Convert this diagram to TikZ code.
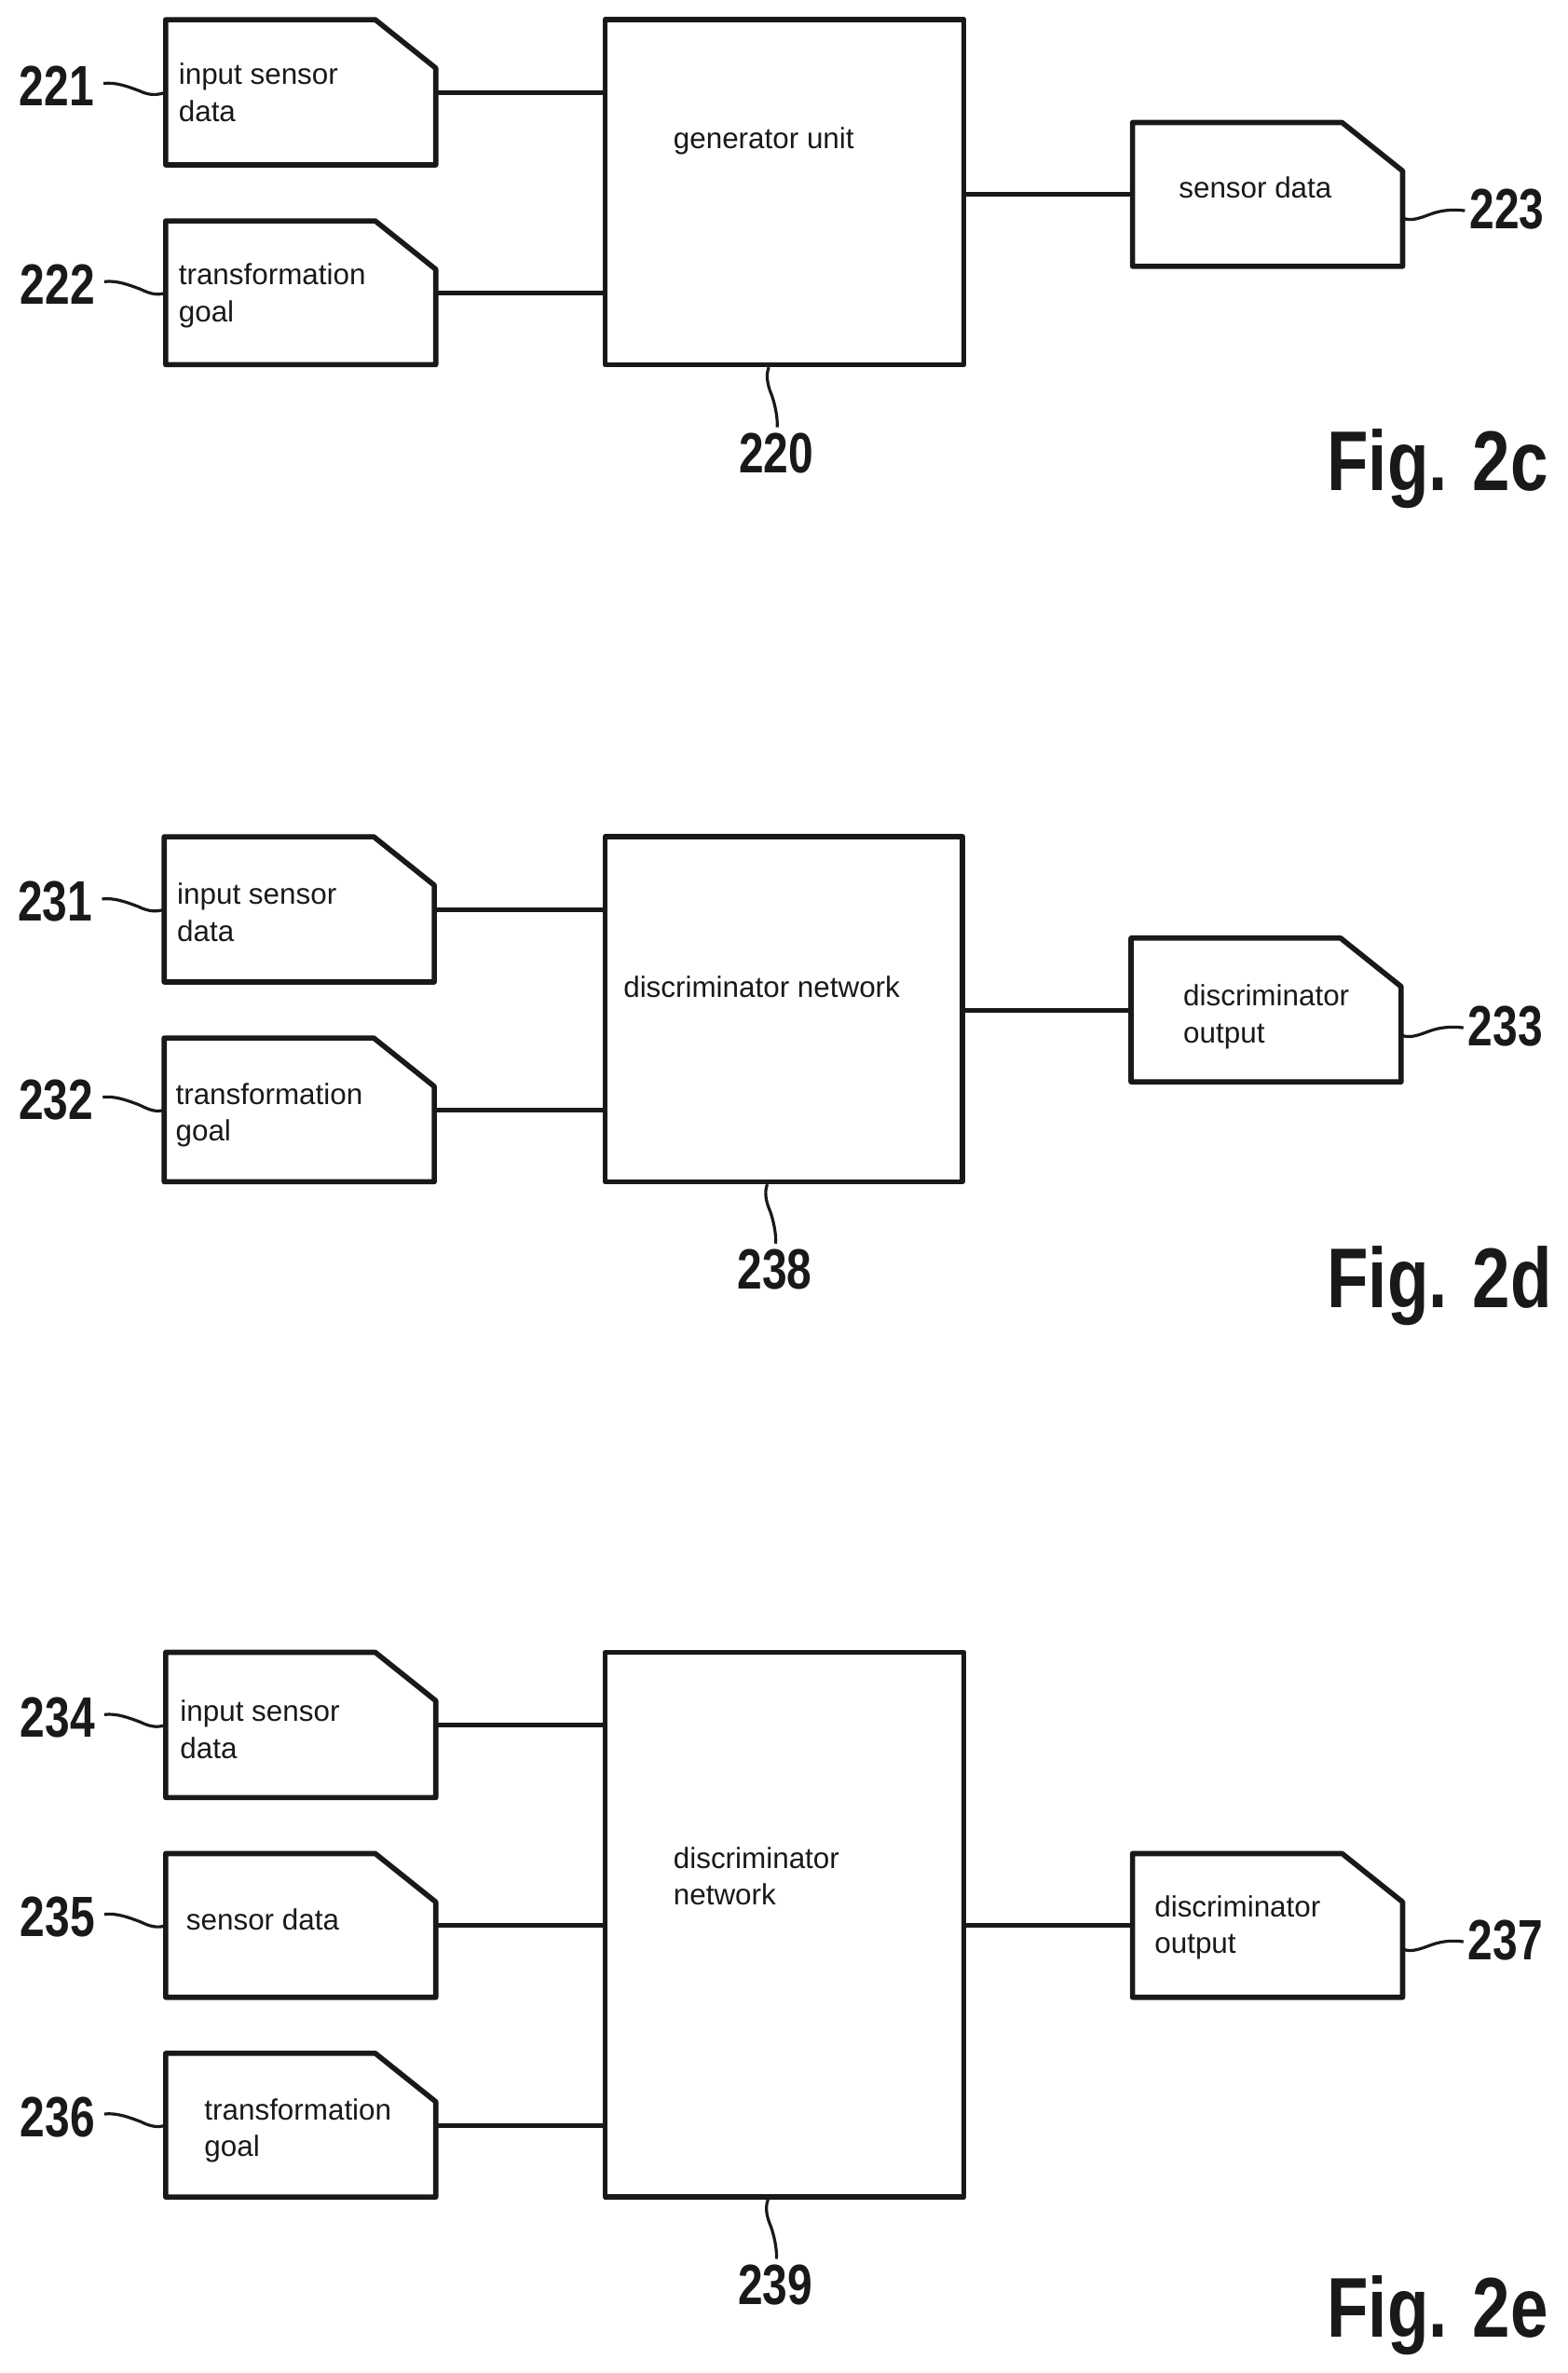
\documentclass[tikz,border=0pt]{standalone}
\usepackage{fontspec}
\usepackage{graphicx}
\setmainfont{Liberation Sans}
\usetikzlibrary{fit}
\definecolor{ink}{gray}{0.1}
\tikzset{
  frame/.style={draw=ink,line width=5.6pt,line join=round},
  wire/.style={draw=ink,line width=5pt},
  leaderline/.style={draw=ink,line width=3.2pt},
  lbl/.style={anchor=west,align=left,inner sep=0pt,text=ink,font=\fontsize{31.4}{39.5}\selectfont},
  refnum/.style={inner sep=0pt,text=ink,font=\bfseries\fontsize{61}{61}\selectfont},
  figlbl/.style={anchor=base west,inner sep=0pt,text=ink,font=\bfseries\fontsize{91}{91}\selectfont},
  hull/.style={inner sep=0pt,draw=none}
}
\newcommand{\docbox}[5]{%
  \node[hull,fit={(#2,#3) (#4,#5)}] (#1) {};
  \draw[frame] (#2,#3) -- ({#4-40},#3) -- (#4,{#3+32}) -- (#4,#5) -- (#2,#5) -- cycle;
}
\newcommand{\mainbox}[5]{%
  \node[hull,frame,fit={(#2,#3) (#4,#5)}] (#1) {};
}
\newcommand{\num}[4]{\node[refnum] (#1) at (#2,#3) {\scalebox{.786}[1]{#4}};}
% squiggle from a number on the left to its box
\newcommand{\leftlead}[2]{%
  \draw[leaderline] ([xshift=10pt,yshift=3pt]#1.east) .. controls +(8,-1) and +(-8,-3) .. ++(24,5) .. controls +(6,3) and +(-5,2) .. (#2.west);
}
% squiggle from a box on the right to its number
\newcommand{\rightlead}[2]{%
  \draw[leaderline] (#1) .. controls +(6,3) and +(-6,2) .. ++(20,-3) .. controls +(6,-2) and +(-8,-1) .. ([xshift=-5pt,yshift=-2pt]#2.west);
}
% squiggle from a number below up to the main box
\newcommand{\bottomlead}[2]{%
  \draw[leaderline] ([xshift=1pt,yshift=6pt]#1.north) .. controls +(1pt,10pt) and +(3pt,-8pt) .. ++(-6pt,35pt) .. controls +(-3pt,7pt) and +(-4pt,-10pt) .. ([xshift=-8pt]#1.north |- #2.south);
}
\begin{document}
\begin{tikzpicture}[x=1.624pt,y=-1.624pt]
\useasboundingbox (0,0) rectangle (1035.7,1568.3);

% Fig 2c
\mainbox{g220}{400}{13}{637}{241}
\docbox{b221}{109.5}{13}{288}{109}
\docbox{b222}{109.5}{146}{288}{241}
\docbox{b223}{748.5}{81}{927}{176}
\draw[wire] (b221.east) -- (b221.east -| g220.west);
\draw[wire] (b222.east) -- (b222.east -| g220.west);
\draw[wire] (b223.west -| g220.east) -- (b223.west);
\node[lbl] (t221) at (118,61) {input sensor\\data};
\node[lbl] (t222) at (118,195.5) {transformation\\goal};
\node[lbl] (t220) at (445,93) {generator unit};
\node[lbl] (t223) at (779,124) {sensor data};
\num{n221}{37.5}{57}{221}
\num{n222}{38}{188}{222}
\num{n223}{996}{138}{223}
\num{n220}{513}{299.5}{220}
\leftlead{n221}{b221}
\leftlead{n222}{b222}
\coordinate (e223) at (927,144);
\rightlead{e223}{n223}
\bottomlead{n220}{g220}
\node[figlbl] (f2c) at (877,324.3) {\scalebox{.80}[1]{Fig. 2c}};

% Fig 2d
\mainbox{g238}{400}{553}{636}{781}
\docbox{b231}{108.5}{553}{287}{649}
\docbox{b232}{108.5}{686}{287}{781}
\docbox{b233}{747.5}{620}{926}{715}
\draw[wire] (b231.east) -- (b231.east -| g238.west);
\draw[wire] (b232.east) -- (b232.east -| g238.west);
\draw[wire] (b233.west -| g238.east) -- (b233.west);
\node[lbl] (t231) at (117,603) {input sensor\\data};
\node[lbl] (t232) at (116,737) {transformation\\goal};
\node[lbl] (t238) at (412,652.5) {discriminator network};
\node[lbl] (t233) at (782,672) {discriminator\\output};
\num{n231}{36.5}{596}{231}
\num{n232}{37}{727}{232}
\num{n233}{995}{678}{233}
\num{n238}{512}{839}{238}
\leftlead{n231}{b231}
\leftlead{n232}{b232}
\coordinate (e233) at (926,684);
\rightlead{e233}{n233}
\bottomlead{n238}{g238}
\node[figlbl] (f2d) at (877,864.3) {\scalebox{.80}[1]{Fig. 2d}};

% Fig 2e
\mainbox{g239}{400}{1092}{637}{1452}
\docbox{b234}{109.5}{1092}{288}{1188}
\docbox{b235}{109.5}{1225}{288}{1320}
\docbox{b236}{109.5}{1357}{288}{1452}
\docbox{b237}{748.5}{1225}{927}{1320}
\draw[wire] (b234.east) -- (b234.east -| g239.west);
\draw[wire] (b235.east) -- (b235.east -| g239.west);
\draw[wire] (b236.east) -- (b236.east -| g239.west);
\draw[wire] (b237.west -| g239.east) -- (b237.west);
\node[lbl] (t234) at (119,1143) {input sensor\\data};
\node[lbl] (t235) at (123,1268.5) {sensor data};
\node[lbl] (t236) at (135,1408) {transformation\\goal};
\node[lbl] (t239) at (445,1240) {discriminator\\network};
\node[lbl] (t237) at (763,1274) {discriminator\\output};
\num{n234}{38}{1135}{234}
\num{n235}{38}{1267}{235}
\num{n236}{38}{1399}{236}
\num{n237}{995}{1282}{237}
\num{n239}{512.5}{1510}{239}
\leftlead{n234}{b234}
\leftlead{n235}{b235}
\leftlead{n236}{b236}
\coordinate (e237) at (927,1288);
\rightlead{e237}{n237}
\bottomlead{n239}{g239}
\node[figlbl] (f2e) at (877,1544.3) {\scalebox{.80}[1]{Fig. 2e}};
\end{tikzpicture}
\end{document}
